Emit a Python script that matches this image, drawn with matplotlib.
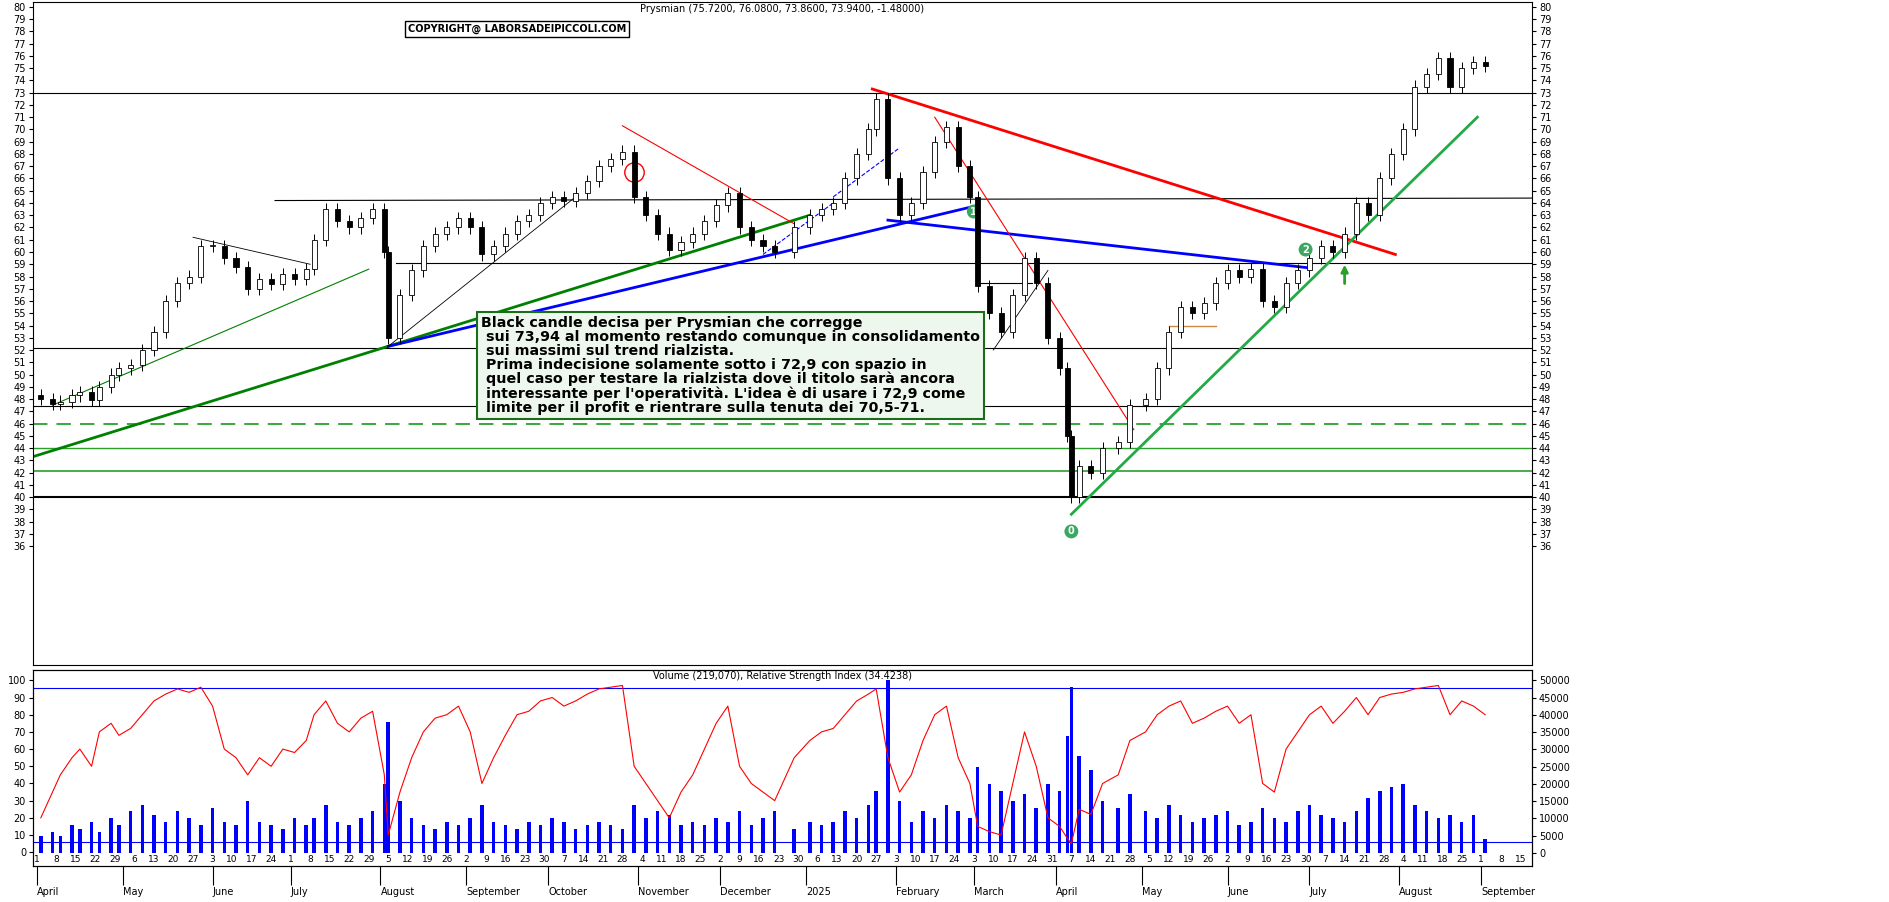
import numpy as np
import pandas as pd
import matplotlib
matplotlib.use("Agg")
import matplotlib.pyplot as plt

dates = ["2024-04-02","2024-04-05","2024-04-09","2024-04-12","2024-04-16","2024-04-19","2024-04-23","2024-04-26",
"2024-04-30","2024-05-03","2024-05-08","2024-05-13","2024-05-16","2024-05-21","2024-05-24","2024-05-29","2024-06-03",
"2024-06-06","2024-06-11","2024-06-14","2024-06-19","2024-06-24","2024-06-27","2024-07-02","2024-07-05","2024-07-09",
"2024-07-12","2024-07-17","2024-07-22","2024-07-25","2024-07-30","2024-08-02","2024-08-05","2024-08-08","2024-08-13",
"2024-08-16","2024-08-21","2024-08-26","2024-08-29","2024-09-03","2024-09-06","2024-09-11","2024-09-16","2024-09-19",
"2024-09-24","2024-09-27","2024-10-02","2024-10-07","2024-10-10","2024-10-15","2024-10-18","2024-10-23","2024-10-28",
"2024-10-31","2024-11-05","2024-11-08","2024-11-13","2024-11-18","2024-11-21","2024-11-26","2024-11-29","2024-12-04",
"2024-12-09","2024-12-12","2024-12-17","2024-12-20","2024-12-27","2025-01-02","2025-01-07","2025-01-10","2025-01-15",
"2025-01-20","2025-01-23","2025-01-27","2025-01-30","2025-02-04","2025-02-07","2025-02-12","2025-02-17","2025-02-20",
"2025-02-25","2025-02-28","2025-03-04","2025-03-07","2025-03-12","2025-03-17","2025-03-20","2025-03-25","2025-03-28",
"2025-04-02","2025-04-04","2025-04-07","2025-04-09","2025-04-14","2025-04-17","2025-04-23","2025-04-28","2025-05-02",
"2025-05-07","2025-05-12","2025-05-15","2025-05-20","2025-05-23","2025-05-28","2025-06-02","2025-06-05","2025-06-10",
"2025-06-13","2025-06-18","2025-06-23","2025-06-26","2025-07-01","2025-07-04","2025-07-09","2025-07-14","2025-07-17",
"2025-07-22","2025-07-25","2025-07-30","2025-08-04","2025-08-07","2025-08-12","2025-08-15","2025-08-20","2025-08-25",
"2025-08-28","2025-09-02"]
closes = [48.0,47.6,47.8,48.3,48.6,47.9,49.0,50.0,50.5,50.8,52.0,53.5,56.0,57.5,58.0,60.5,60.5,
59.5,58.8,57.0,57.8,57.4,58.2,57.8,58.6,61.0,63.5,62.5,62.0,62.8,63.5,60.0,53.0,56.5,58.5,
60.5,61.5,62.0,62.8,62.0,59.8,60.5,61.5,62.5,63.0,64.0,64.5,64.2,64.8,65.8,67.0,67.6,68.2,
64.5,63.0,61.5,60.2,60.8,61.5,62.5,63.8,64.8,62.0,61.0,60.5,60.0,62.0,63.0,63.5,64.0,66.0,
68.0,70.0,72.5,66.0,63.0,64.0,66.5,69.0,70.2,67.0,64.5,57.2,55.0,53.5,56.5,59.5,57.5,53.0,
50.5,45.0,40.0,42.5,42.0,44.0,44.5,47.5,48.0,50.5,53.5,55.5,55.0,55.8,57.5,58.5,58.0,58.6,
56.0,55.5,57.5,58.5,59.5,60.5,60.0,61.5,64.0,63.0,66.0,68.0,70.0,73.5,74.5,75.8,73.5,75.0,
75.5,75.2,73.94]
rsi = [20,35,45,55,60,50,70,75,68,72,80,88,92,95,93,96,85,
60,55,45,55,50,60,58,65,80,88,75,70,78,82,45,10,35,55,
70,78,80,85,70,40,55,68,80,82,88,90,85,88,92,95,96,97,
50,40,30,20,35,45,60,75,85,50,40,35,30,55,65,70,72,80,
88,92,95,55,35,45,65,80,85,55,40,15,12,10,40,70,50,20,
15,8,5,25,22,40,45,65,70,80,85,88,75,78,82,85,75,80,
40,35,60,70,80,85,75,82,90,80,90,92,93,95,96,97,80,88,
85,80,45]
volume = [5,6,5,8,7,9,6,10,8,12,14,11,9,12,10,8,13,
9,8,15,9,8,7,10,8,10,14,9,8,10,12,20,38,15,10,
8,7,9,8,10,14,9,8,7,9,8,10,9,7,8,9,8,7,
14,10,12,11,8,9,8,10,9,12,8,10,12,7,9,8,9,12,
10,14,18,50,15,9,12,10,14,12,10,25,20,18,15,17,13,20,
18,34,48,28,24,15,13,17,12,10,14,11,9,10,11,12,8,9,
13,10,9,12,14,11,10,9,12,16,18,19,20,14,12,10,11,
9,11,4]

month_labels = ["April","May","June","July","August","September","October","November","December","2025",
"February","March","April","May","June","July","August","September"]

n = min(len(dates), len(closes), len(rsi), len(volume))
dates, closes, rsi = dates[:n], closes[:n], rsi[:n]
volume = [v * 1000 for v in volume[:n]]

start = np.datetime64("2024-04-01")
def bx(d):
    return np.busday_count(start, np.datetime64(d))
x = np.array([bx(d) for d in dates])
c = np.array(closes); o = np.r_[c[0]+0.3, c[:-1]]

fig = plt.figure(figsize=(18.9, 9.02), dpi=100)
fig.patch.set_facecolor("white")
L, R = 33/1890, 1532/1890
ax1 = fig.add_axes([L, 1-665/902, R-L, 663/902])
ax2 = fig.add_axes([L, 1-866/902, R-L, 196/902])
xmin, xmax = -1, 383
for ax in (ax1, ax2):
    ax.set_xlim(xmin, xmax)
    for s in ax.spines.values(): s.set_linewidth(0.8)

ax1.set_ylim(26.3, 80.4)
for xi, oi, ci in zip(x, o, c):
    hi, lo = max(oi, ci), min(oi, ci)
    ax1.vlines(xi, lo-0.5, hi+0.5, color="black", lw=0.7, zorder=3)
    ax1.bar(xi, max(hi-lo, 0.1), bottom=lo, width=1.3, color="white" if ci >= oi else "black",
            edgecolor="black", lw=0.6, zorder=4)

def seg(d1, p1, d2, p2, **kw):
    ax1.plot([bx(d1), bx(d2)], [p1, p2], **kw)
ax1.axhline(73, color="black", lw=0.8)
ax1.axhline(47.4, color="black", lw=0.8)
ax1.axhline(52.2, color="black", lw=0.8)
ax1.axhline(46, color="#2aa02a", lw=1.3, ls=(0, (8, 5)))
ax1.axhline(44, color="#2aa02a", lw=1)
ax1.axhline(42.1, color="#2aa02a", lw=1.2)
ax1.axhline(40, color="black", lw=1.5)
seg("2024-06-25", 64.2, "2025-09-19", 64.4, color="black", lw=0.8)
seg("2024-08-07", 59.1, "2025-09-19", 59.1, color="black", lw=0.8)
seg("2025-03-04", 57.5, "2025-03-24", 57.5, color="black", lw=0.8)
seg("2024-03-29", 43.3, "2025-01-02", 63.0, color="green", lw=2)
seg("2024-04-05", 47.5, "2024-07-29", 58.6, color="green", lw=0.8)
seg("2024-08-05", 52.3, "2025-03-04", 63.8, color="blue", lw=2)
seg("2025-01-30", 62.6, "2025-07-01", 58.7, color="blue", lw=2)
seg("2025-01-24", 73.3, "2025-07-31", 59.8, color="red", lw=2)
seg("2024-10-28", 70.3, "2024-12-27", 62.3, color="red", lw=0.8)
seg("2025-02-17", 71.0, "2025-04-29", 45.5, color="red", lw=0.8)
seg("2025-04-07", 38.6, "2025-08-29", 71.0, color="#22aa44", lw=2)
seg("2024-08-05", 52.3, "2024-10-10", 64.5, color="black", lw=0.6)
seg("2024-05-27", 61.2, "2024-07-08", 59.0, color="black", lw=0.6)
seg("2025-03-10", 52.0, "2025-03-28", 58.5, color="black", lw=0.6)
seg("2024-12-17", 59.8, "2025-01-10", 64.0, color="blue", lw=0.8, ls="--")
seg("2025-01-10", 64.5, "2025-02-04", 68.5, color="blue", lw=0.8, ls="--")
seg("2025-05-12", 54.0, "2025-05-28", 54.0, color="#cc8844", lw=1)
ax1.plot(bx("2024-10-31"), 66.5, "o", mfc="none", mec="red", ms=14)
for d, p, t in [("2025-04-07", 37.2, "0"), ("2025-03-03", 63.3, "1"), ("2025-06-30", 60.2, "2")]:
    ax1.text(bx(d), p, t, color="white", fontsize=7, ha="center", va="center", fontweight="bold",
             bbox=dict(boxstyle="circle,pad=0.2", fc="#3aa860", ec="none"))
ax1.annotate("", xy=(bx("2025-07-14"), 59.2), xytext=(bx("2025-07-14"), 57.2),
             arrowprops=dict(arrowstyle="-|>", color="#2aa02a", lw=2))
ax1.set_yticks(range(36, 81))
ax1.tick_params(axis="y", labelsize=7, length=3, left=True, right=True, labelleft=True, labelright=True, pad=2)
ax1.set_xticks([])
ax1.text(0.5, 0.997, "Prysmian (75.7200, 76.0800, 73.8600, 73.9400, -1.48000)", transform=ax1.transAxes,
         ha="center", va="top", fontsize=7)
ax1.text(408/1890, 1-29/902, "COPYRIGHT@ LABORSADEIPICCOLI.COM", transform=fig.transFigure, fontsize=7,
         fontweight="bold", va="center", bbox=dict(fc="white", ec="black", lw=1, pad=2))
note = ("Black candle decisa per Prysmian che corregge\n sui 73,94 al momento restando comunque in consolidamento\n"
        " sui massimi sul trend rialzista.\n Prima indecisione solamente sotto i 72,9 con spazio in\n"
        " quel caso per testare la rialzista dove il titolo sarà ancora\n interessante per l'operatività. L'idea è di usare i 72,9 come\n"
        " limite per il profit e rientrare sulla tenuta dei 70,5-71.")
ax1.text(481/1890, 1-316/902, note, transform=fig.transFigure, fontsize=10.3, fontweight="bold", va="top",
         linespacing=1.0, bbox=dict(fc="#eef7ee", ec="#1a6e1a", lw=1.5, pad=3))

ax2.set_ylim(-8, 106)
ax2.axhline(95.5, color="blue", lw=0.8)
ax2.axhline(6, color="blue", lw=0.8)
ax3 = ax2.twinx()
ax3.set_xlim(xmin, xmax)
ax3.set_ylim(-3800, 53000)
ax3.bar(x, volume, width=0.9, color="blue", zorder=1)
ax2.set_zorder(ax3.get_zorder()+1); ax2.patch.set_visible(False)
ax2.plot(x, rsi, color="red", lw=0.8)
ax2.set_yticks(range(0, 101, 10))
ax2.tick_params(axis="y", labelsize=7, length=3, pad=2)
ax3.set_yticks(range(0, 50001, 5000))
ax3.tick_params(axis="y", labelsize=7, length=3, pad=2)
ax2.text(0.5, 0.995, "Volume (219,070), Relative Strength Index (34.4238)", transform=ax2.transAxes,
         ha="center", va="top", fontsize=7)

months = pd.date_range("2024-04-01", "2025-09-01", freq="MS")
mx = [bx(np.datetime64(m.date())) for m in months]
ax2.set_xticks(mx)
ax2.set_xticklabels(month_labels, fontsize=7, ha="left")
ax2.tick_params(axis="x", length=14, pad=1)
mondays = pd.date_range("2024-04-01", "2025-09-19", freq="W-MON")
for m in mondays:
    xi = bx(np.datetime64(m.date()))
    ax2.text(xi, -7, str(m.day), fontsize=6.5, ha="center", va="bottom")
fig.savefig("out.png", dpi=100, facecolor="white")
